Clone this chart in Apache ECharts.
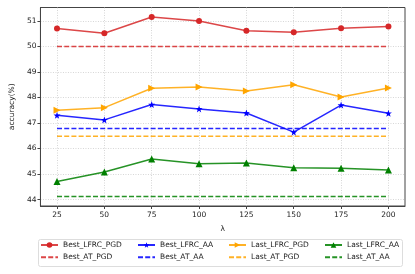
<!DOCTYPE html>
<html><head><meta charset="utf-8">
<script src="https://cdn.jsdelivr.net/npm/echarts@6/dist/echarts.min.js"></script>
<style>html,body{margin:0;padding:0;background:#fff}#c{width:415px;height:274px}</style>
</head><body><div id="c"></div>
<script>
const lambdas = [25, 50, 75, 100, 125, 150, 175, 200];
const xTicks = [25, 50, 75, 100, 125, 150, 175, 200];
const yTicks = [44, 45, 46, 47, 48, 49, 50, 51];
const bestLfrcPgd = [50.70, 50.51, 51.15, 50.99, 50.61, 50.55, 50.71, 50.78];
const bestLfrcAa  = [47.30, 47.12, 47.72, 47.55, 47.39, 46.64, 47.70, 47.38];
const lastLfrcPgd = [47.50, 47.60, 48.36, 48.41, 48.25, 48.50, 48.02, 48.37];
const lastLfrcAa  = [44.71, 45.08, 45.59, 45.40, 45.43, 45.25, 45.23, 45.16];
const bestAtPgd = 49.99;
const bestAtAa  = 46.78;
const lastAtPgd = 46.48;
const lastAtAa  = 44.12;

const font = 'DejaVu Sans';
const pair = arr => lambdas.map((x, i) => [x, arr[i]]);
const flat = v => lambdas.map(x => [x, v]);

function solid(name, arr, color, symbol, size) {
  return { name, type: 'line', data: pair(arr), symbol, symbolSize: size,
    lineStyle: { color, width: 1.5, opacity: 0.85 }, itemStyle: { color },
    animation: false, z: 5 };
}
function dashed(name, v, color) {
  return { name, type: 'line', data: flat(v), symbol: 'none',
    lineStyle: { color, width: 1.5, type: [5, 2.2], opacity: 0.85 }, itemStyle: { color },
    animation: false, z: 4 };
}
const C = { red: '#d62728', blue: '#0000ff', orange: '#ffa500', green: '#008000' };

const legendBase = { orient: 'vertical', top: 241, itemWidth: 17, itemHeight: 7, itemGap: 4.3,
  textStyle: { fontFamily: font, fontSize: 7.5, color: '#222' }, padding: 0 };
const noSym = name => ({ name, itemStyle: { opacity: 0 } });

const chart = echarts.init(document.getElementById('c'), null, { renderer: 'canvas' });
chart.setOption({
  animation: false,
  textStyle: { fontFamily: font },
  grid: { left: 34, right: 10, top: 7.5, bottom: 68, show: true, borderColor: '#444', borderWidth: 1, backgroundColor: 'transparent' },
  xAxis: {
    type: 'value', min: 16.25, max: 208.75,
    name: 'λ', nameLocation: 'middle', nameGap: 19,
    nameTextStyle: { fontFamily: font, fontSize: 7.5, color: '#222' },
    axisLine: { show: true, lineStyle: { color: '#444', width: 1 } },
    axisTick: { show: true, inside: false, length: 3, customValues: xTicks, lineStyle: { color: '#444' } },
    axisLabel: { customValues: xTicks, fontFamily: font, fontSize: 7.5, color: '#222', margin: 5 },
    splitLine: { show: true, lineStyle: { color: '#cccccc', type: [1, 1.5], width: 0.8 } }
  },
  yAxis: {
    type: 'value', min: 43.75, max: 51.52,
    name: 'accuracy(%)', nameLocation: 'middle', nameGap: 20, nameRotate: 90,
    nameTextStyle: { fontFamily: font, fontSize: 7.5, color: '#222' },
    axisLine: { show: true, lineStyle: { color: '#444', width: 1 } },
    axisTick: { show: true, inside: false, length: 3, customValues: yTicks, lineStyle: { color: '#444' } },
    axisLabel: { customValues: yTicks, fontFamily: font, fontSize: 7.5, color: '#222', margin: 4 },
    splitLine: { show: true, lineStyle: { color: '#cccccc', type: [1, 1.5], width: 0.8 } }
  },
  graphic: [{ type: 'rect', left: 38, top: 239, shape: { width: 364, height: 27, r: 2 },
    style: { fill: '#fff', stroke: '#dddddd', lineWidth: 1 }, z: -1 }],
  legend: [
    Object.assign({}, legendBase, { left: 40, data: ['Best_LFRC_PGD', noSym('Best_AT_PGD')] }),
    Object.assign({}, legendBase, { left: 137, data: ['Best_LFRC_AA', noSym('Best_AT_AA')] }),
    Object.assign({}, legendBase, { left: 228, data: ['Last_LFRC_PGD', noSym('Last_AT_PGD')] }),
    Object.assign({}, legendBase, { left: 324, data: ['Last_LFRC_AA', noSym('Last_AT_AA')] })
  ],
  series: [
    solid('Best_LFRC_PGD', bestLfrcPgd, C.red, 'circle', 6),
    dashed('Best_AT_PGD', bestAtPgd, C.red),
    solid('Best_LFRC_AA', bestLfrcAa, C.blue, 'path://M0,-10L2.35,-3.24L9.51,-3.09L3.8,1.24L5.88,8.09L0,4L-5.88,8.09L-3.8,1.24L-9.51,-3.09L-2.35,-3.24Z', 7),
    dashed('Best_AT_AA', bestAtAa, C.blue),
    solid('Last_LFRC_PGD', lastLfrcPgd, C.orange, 'path://M0,0L10,5L0,10Z', 7),
    dashed('Last_AT_PGD', lastAtPgd, C.orange),
    solid('Last_LFRC_AA', lastLfrcAa, C.green, 'triangle', 7),
    dashed('Last_AT_AA', lastAtAa, C.green)
  ]
});
</script></body></html>
